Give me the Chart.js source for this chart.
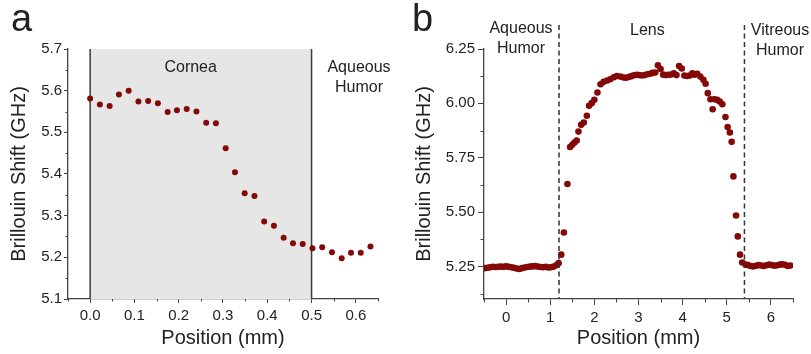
<!DOCTYPE html>
<html>
<head>
<meta charset="utf-8">
<title>Brillouin Shift profiles</title>
<script src="https://cdn.jsdelivr.net/npm/chart.js@4"></script>
<style>
  html, body { margin: 0; padding: 0; background: #fff; }
  #wrap { position: relative; width: 811px; height: 354px; overflow: hidden; }
  canvas { position: absolute; top: 0; }
  #chartA { left: 0; }
  #chartB { left: 400px; }
</style>
</head>
<body>
<div id="wrap">
  <canvas id="chartA" width="400" height="354"></canvas>
  <canvas id="chartB" width="411" height="354"></canvas>
</div>
<script>
// panel a - cornea scan
const corneaPos = [0.000, 0.022, 0.044, 0.065, 0.087, 0.109, 0.131, 0.153, 0.175, 0.196,
  0.218, 0.240, 0.262, 0.284, 0.306, 0.327, 0.349, 0.371, 0.393, 0.415,
  0.437, 0.458, 0.480, 0.502, 0.524, 0.546, 0.568, 0.589, 0.611, 0.633]
const corneaShift = [5.581, 5.567, 5.563, 5.591, 5.600, 5.574, 5.575, 5.570, 5.549, 5.553,
  5.556, 5.550, 5.523, 5.522, 5.462, 5.404, 5.354, 5.347, 5.286, 5.276,
  5.247, 5.234, 5.232, 5.222, 5.224, 5.212, 5.198, 5.211, 5.211, 5.226]
const xTicksA = [0.0, 0.1, 0.2, 0.3, 0.4, 0.5, 0.6]
const xMinorA = [-0.05, 0.05, 0.15, 0.25, 0.35, 0.45, 0.55, 0.65]
const yTicksA = [5.1, 5.2, 5.3, 5.4, 5.5, 5.6, 5.7]
const yMinorA = [5.15, 5.25, 5.35, 5.45, 5.55, 5.65]

// panel b - whole eye scan
const eyePos = [
  -0.48, -0.42, -0.36, -0.30, -0.24, -0.18, -0.12, -0.06, 0.00, 0.06,
  0.12, 0.18, 0.24, 0.30, 0.36, 0.42, 0.48, 0.54, 0.60, 0.66,
  0.72, 0.78, 0.84, 0.90, 0.96, 1.02, 1.08, 1.14, 1.19,
  1.25, 1.31, 1.39, 1.45, 1.50, 1.55, 1.60, 1.64, 1.70, 1.76,
  1.83, 1.88, 1.94, 2.00, 2.07, 2.14, 2.21, 2.29, 2.36, 2.44,
  2.51, 2.59, 2.66,
  2.72, 2.78, 2.84, 2.90, 2.96, 3.02, 3.08, 3.14, 3.20, 3.26,
  3.32, 3.38, 3.44, 3.50, 3.56, 3.62, 3.68, 3.74, 3.80, 3.86,
  3.92, 3.98, 4.04, 4.10, 4.16, 4.22, 4.27,
  4.33, 4.40, 4.47, 4.52, 4.57, 4.63, 4.68, 4.72, 4.78, 4.84,
  4.90, 4.97, 5.02, 5.07, 5.11, 5.15, 5.21, 5.25, 5.30, 5.35, 5.43,
  5.48, 5.54, 5.60, 5.66, 5.72, 5.78, 5.84, 5.90, 5.96, 6.02,
  6.08, 6.14, 6.20, 6.26, 6.32, 6.38, 6.44]
const eyeShift = [
  5.242, 5.244, 5.246, 5.248, 5.247, 5.248, 5.249, 5.248, 5.250, 5.248,
  5.246, 5.244, 5.240, 5.238, 5.242, 5.245, 5.247, 5.249, 5.250, 5.251,
  5.249, 5.247, 5.246, 5.248, 5.245, 5.246, 5.249, 5.255, 5.265,
  5.304, 5.406, 5.629, 5.799, 5.809, 5.820, 5.829, 5.870, 5.901, 5.912,
  5.943, 5.989, 6.001, 6.016, 6.050, 6.088, 6.099, 6.105, 6.111, 6.120,
  6.126, 6.123, 6.119,
  6.118, 6.121, 6.125, 6.129, 6.131, 6.130, 6.128, 6.130, 6.134, 6.136,
  6.140, 6.142, 6.175, 6.158, 6.132, 6.130, 6.131, 6.133, 6.138, 6.130,
  6.172, 6.160, 6.128, 6.126, 6.128, 6.138, 6.132,
  6.136, 6.123, 6.108, 6.090, 6.047, 6.019, 5.973, 6.019, 6.016, 6.008,
  5.996, 5.937, 5.891, 5.866, 5.823, 5.664, 5.484, 5.388, 5.304, 5.268, 5.258,
  5.256, 5.252, 5.250, 5.253, 5.256, 5.254, 5.252, 5.255, 5.258, 5.256,
  5.253, 5.255, 5.258, 5.260, 5.257, 5.252, 5.254]
const xTicksB = [0, 1, 2, 3, 4, 5, 6]
const xMinorB = [-0.5, 0.5, 1.5, 2.5, 3.5, 4.5, 5.5, 6.5]
const yTicksB = [5.25, 5.50, 5.75, 6.00, 6.25]
const yMinorB = [5.125, 5.375, 5.625, 5.875, 6.125]

const dotColor = '#850808'
const axisColor = '#444'
const textColor = '#222'
const fontFam = '"Liberation Sans", Arial, sans-serif'

function toPoints(xs, ys) {
  return xs.map((x, i) => ({ x: x, y: ys[i] }))
}

function drawMinor(chart, values, len, axis) {
  const s = chart.scales[axis]
  const ctx = chart.ctx
  ctx.save()
  ctx.strokeStyle = axisColor
  ctx.lineWidth = 1
  values.forEach(v => {
    const p = Math.round(s.getPixelForValue(v)) + 0.5
    ctx.beginPath()
    if (axis === 'x') {
      ctx.moveTo(p, s.top)
      ctx.lineTo(p, s.top + len)
    } else {
      ctx.moveTo(s.right, p)
      ctx.lineTo(s.right - len, p)
    }
    ctx.stroke()
  })
  ctx.restore()
}

function drawText(ctx, lines, x, y, size, align) {
  ctx.save()
  ctx.fillStyle = textColor
  ctx.font = size + 'px ' + fontFam
  ctx.textAlign = align || 'center'
  ctx.textBaseline = 'alphabetic'
  lines.forEach((t, i) => ctx.fillText(t, x, y + i * 20))
  ctx.restore()
}

function panelOptions(cfg) {
  const tickFont = { family: fontFam, size: 15 }
  const titleFont = { family: fontFam, size: 20 }
  return {
    responsive: false,
    animation: false,
    events: [],
    layout: { padding: { left: 0, right: cfg.padRight, top: 49, bottom: 0 } },
    plugins: { legend: { display: false }, tooltip: { enabled: false } },
    scales: {
      x: {
        type: 'linear',
        min: cfg.xMin,
        max: cfg.xMax,
        afterBuildTicks: s => { s.ticks = cfg.xTicks.map(v => ({ value: v })) },
        afterFit: s => { s.height = 55 },
        ticks: {
          autoSkip: false, maxRotation: 0, padding: 4, color: textColor, font: tickFont,
          callback: v => v.toFixed(cfg.xDec)
        },
        grid: { drawOnChartArea: false, tickLength: cfg.tickLen, color: axisColor, tickWidth: 1 },
        border: { display: true, color: axisColor, width: 1.3 },
        title: { display: true, text: 'Position (mm)', color: textColor, font: titleFont, padding: { bottom: 4 } }
      },
      y: {
        type: 'linear',
        min: cfg.yMin,
        max: cfg.yMax,
        afterBuildTicks: s => { s.ticks = cfg.yTicks.map(v => ({ value: v })) },
        afterFit: s => { s.width = cfg.yWidth },
        ticks: {
          padding: cfg.yPad, color: textColor, font: tickFont,
          callback: v => v.toFixed(cfg.yDec)
        },
        grid: { drawOnChartArea: false, tickLength: cfg.tickLen, color: axisColor, tickWidth: 1 },
        border: { display: true, color: axisColor, width: 1.3 },
        title: { display: true, text: 'Brillouin Shift (GHz)', color: textColor, font: titleFont, padding: { top: cfg.yTitlePad } }
      }
    }
  }
}

// ---- panel a ----
const corneaDecor = {
  id: 'corneaDecor',
  beforeDatasetsDraw(chart) {
    const { ctx, chartArea } = chart
    const x = chart.scales.x
    const x0 = x.getPixelForValue(0)
    const x1 = x.getPixelForValue(0.5)
    ctx.save()
    ctx.fillStyle = '#e6e6e6'
    ctx.fillRect(x0, chartArea.top, x1 - x0, chartArea.bottom - chartArea.top)
    ctx.strokeStyle = '#3a3a3a'
    ctx.lineWidth = 1.5
    ;[x0, x1].forEach(p => {
      ctx.beginPath()
      ctx.moveTo(p, chartArea.top)
      ctx.lineTo(p, chartArea.bottom)
      ctx.stroke()
    })
    ctx.restore()
  },
  afterDraw(chart) {
    const { ctx } = chart
    const x = chart.scales.x
    drawMinor(chart, xMinorA, 2.5, 'x')
    drawMinor(chart, yMinorA, 2.5, 'y')
    drawText(ctx, ['Cornea'], x.getPixelForValue(0.227), 72, 16)
    drawText(ctx, ['Aqueous', 'Humor'], 359, 72, 16)
    drawText(ctx, ['a'], 11, 31, 38, 'left')
  }
}

new Chart(document.getElementById('chartA'), {
  type: 'scatter',
  data: {
    datasets: [{
      data: toPoints(corneaPos, corneaShift),
      pointRadius: 3,
      pointBackgroundColor: dotColor,
      pointBorderColor: dotColor,
      pointBorderWidth: 0
    }]
  },
  options: panelOptions({
    padRight: 22, xMin: -0.05, xMax: 0.65, xTicks: xTicksA, xDec: 1,
    yMin: 5.1, yMax: 5.7, yTicks: yTicksA, yDec: 1,
    yWidth: 68, tickLen: 4, yPad: 2, yTitlePad: 7
  }),
  plugins: [corneaDecor]
})

// ---- panel b ----
const eyeDecor = {
  id: 'eyeDecor',
  afterDatasetsDraw(chart) {
    const { ctx, chartArea } = chart
    const x = chart.scales.x
    ctx.save()
    ctx.strokeStyle = '#333'
    ctx.lineWidth = 1.5
    ctx.setLineDash([5, 3.5])
    ;[1.2, 5.4].forEach(v => {
      const p = x.getPixelForValue(v)
      ctx.beginPath()
      ctx.moveTo(p, 25)
      ctx.lineTo(p, chartArea.bottom)
      ctx.stroke()
    })
    ctx.restore()
  },
  afterDraw(chart) {
    const { ctx } = chart
    const x = chart.scales.x
    drawMinor(chart, xMinorB, 3.5, 'x')
    drawMinor(chart, yMinorB, 3.5, 'y')
    drawText(ctx, ['Aqueous', 'Humor'], 121, 33, 16)
    drawText(ctx, ['Lens'], x.getPixelForValue(3.2), 35, 16)
    drawText(ctx, ['Vitreous', 'Humor'], 380, 35, 16)
    drawText(ctx, ['b'], 12, 31, 38, 'left')
  }
}

new Chart(document.getElementById('chartB'), {
  type: 'scatter',
  data: {
    datasets: [{
      data: toPoints(eyePos, eyeShift),
      pointRadius: 3.3,
      pointBackgroundColor: dotColor,
      pointBorderColor: dotColor,
      pointBorderWidth: 0
    }]
  },
  options: panelOptions({
    padRight: 18, xMin: -0.5, xMax: 6.5, xTicks: xTicksB, xDec: 0,
    yMin: 5.1, yMax: 6.25, yTicks: yTicksB, yDec: 2,
    yWidth: 84, tickLen: 6, yPad: 3, yTitlePad: 12
  }),
  plugins: [eyeDecor]
})
</script>
</body>
</html>
